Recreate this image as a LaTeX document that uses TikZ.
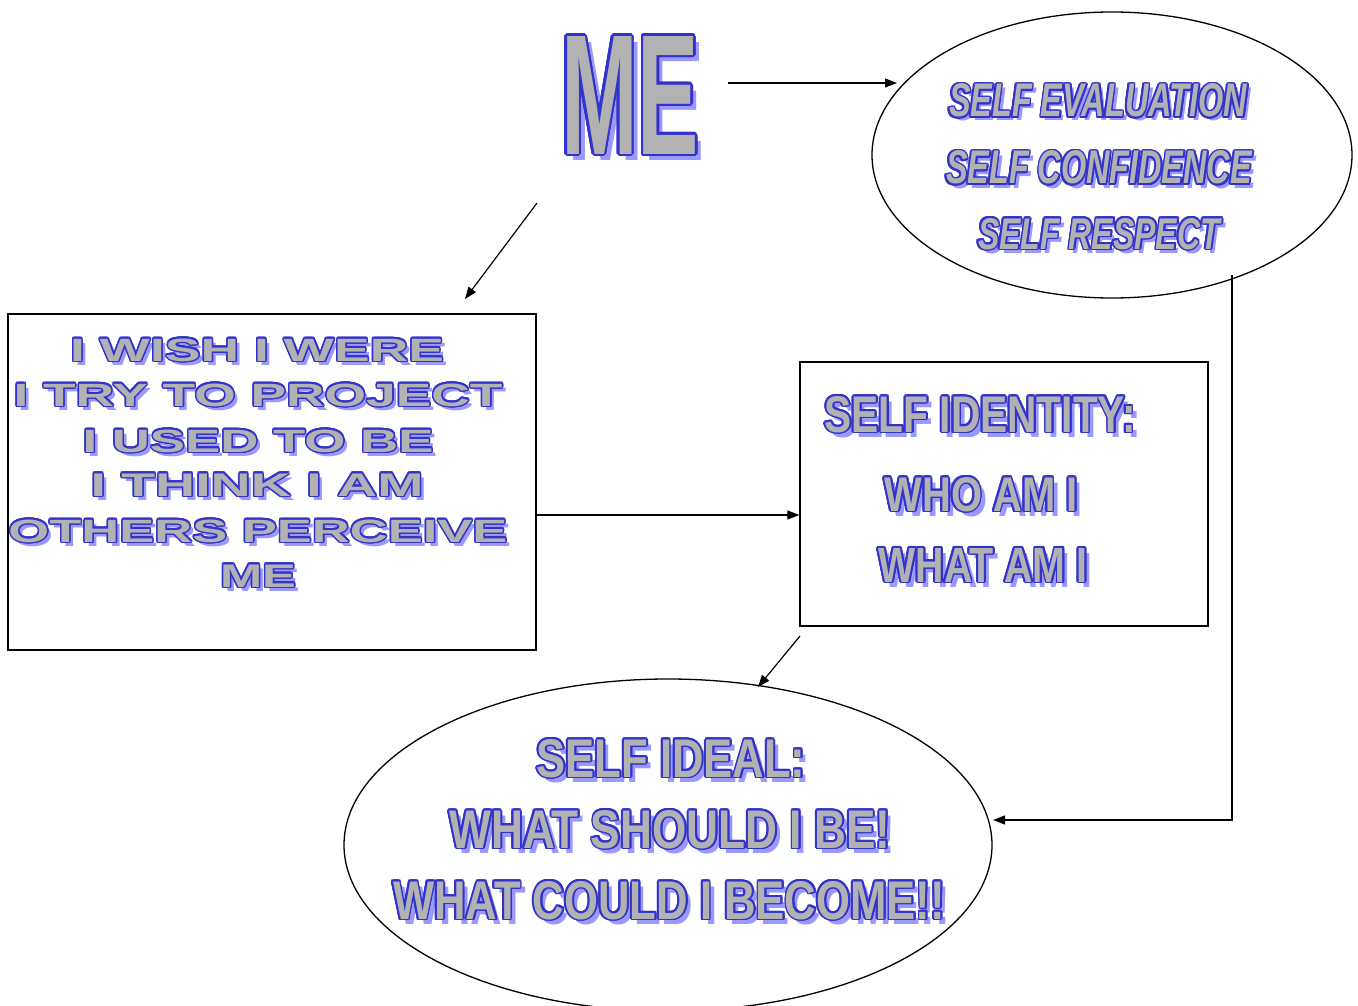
\documentclass[tikz,border=0pt]{standalone}
\usepackage{fontspec}
\setmainfont{Liberation Sans}
\usetikzlibrary{arrows.meta,shapes.geometric}
\definecolor{shadowblue}{RGB}{153,153,255}
\definecolor{outblue}{RGB}{51,51,204}
\definecolor{fillgray}{RGB}{178,178,178}
\newsavebox\waboxS
\newsavebox\waboxO
\newsavebox\waboxF
\newdimen\warad
\newcommand\WAc[2]{\rlap{\hspace*{#1\warad}\raisebox{#2\warad}{\usebox\waboxO}}}
% #1 width, #2 height, #3 font setup, #4 shadow offset, #5 outline radius, #6 text
\newcommand\WA[6]{%
 \sbox\waboxS{\resizebox{#1}{#2}{\color{shadowblue}#3#6}}%
 \sbox\waboxO{\resizebox{#1}{#2}{\color{outblue}#3#6}}%
 \sbox\waboxF{\resizebox{#1}{#2}{\color{fillgray}#3#6}}%
 \warad=#5\relax
 \makebox[#1][l]{%
 \rlap{\hspace*{#4}\raisebox{-#4}{\usebox\waboxS}}%
  \WAc{1}{0}\WAc{.924}{.383}\WAc{.707}{.707}\WAc{.383}{.924}%
  \WAc{0}{1}\WAc{-.383}{.924}\WAc{-.707}{.707}\WAc{-.924}{.383}%
  \WAc{-1}{0}\WAc{-.924}{-.383}\WAc{-.707}{-.707}\WAc{-.383}{-.924}%
  \WAc{0}{-1}\WAc{.383}{-.924}\WAc{.707}{-.707}\WAc{.924}{-.383}%
 \usebox\waboxF}}
\newcommand\fA{\fontsize{170}{170}\selectfont\bfseries}
\newcommand\fB{\fontsize{48}{48}\selectfont\bfseries\itshape}
\newcommand\fC{\fontsize{34}{34}\selectfont\bfseries}
\newcommand\fD{\fontsize{51}{51}\selectfont\bfseries}
\newcommand\fE{\fontsize{55}{55}\selectfont\bfseries}
\tikzset{
 wa/.style={anchor=base,inner sep=0pt,outer sep=0pt},
 frame/.style={draw=black,line width=1.3pt,inner sep=0pt},
 oval/.style={draw=black,line width=1.3pt,ellipse,inner sep=0pt},
 arr/.style={line width=1.2pt,-{Triangle[length=12pt,width=9pt]}},
 ln/.style={line width=1.2pt}
}
\begin{document}
\begin{tikzpicture}[x=1pt,y=-1pt]
\useasboundingbox (0,0) rectangle (1358,1006);
% shapes
\node[oval,minimum width=480pt,minimum height=286pt] (ell1) at (1112,155) {};
\node[oval,minimum width=648pt,minimum height=332pt] (ell2) at (668,845) {};
\node[frame,minimum width=528pt,minimum height=336pt] (lbox) at (272,482) {};
\node[frame,minimum width=408pt,minimum height=264pt] (mbox) at (1004,494) {};
% ME
\node[wa] (me) at (630,154) {\WA{138pt}{118pt}{\fA}{6pt}{2.5pt}{ME}};
% self evaluation
\node[wa] (t1) at (1098,117) {\WA{298pt}{33pt}{\fB}{4pt}{1.7pt}{SELF EVALUATION}};
\node[wa] (t2) at (1099,184) {\WA{306pt}{33pt}{\fB}{4pt}{1.7pt}{SELF CONFIDENCE}};
\node[wa] (t3) at (1099,249) {\WA{242pt}{31pt}{\fB}{4pt}{1.7pt}{SELF RESPECT}};
% left box
\node[wa] (l1) at (257,361) {\WA{374pt}{22.5pt}{\fC}{4pt}{1.5pt}{I WISH I WERE}};
\node[wa] (l2) at (258,406) {\WA{489pt}{22.5pt}{\fC}{4pt}{1.5pt}{I TRY TO PROJECT}};
\node[wa] (l3) at (258,452) {\WA{351pt}{22.5pt}{\fC}{4pt}{1.5pt}{I USED TO BE}};
\node[wa] (l4) at (257,496) {\WA{333pt}{22.5pt}{\fC}{4pt}{1.5pt}{I THINK I AM}};
\node[wa] (l5) at (258,542) {\WA{499pt}{22.5pt}{\fC}{4pt}{1.5pt}{OTHERS PERCEIVE}};
\node[wa] (l6) at (258,587) {\WA{76pt}{22.5pt}{\fC}{4pt}{1.5pt}{ME}};
% middle box
\node[wa] (m1) at (980,432) {\WA{311pt}{36pt}{\fD}{5pt}{1.8pt}{SELF IDENTITY:}};
\node[wa] (m2) at (981,511) {\WA{193pt}{34pt}{\fD}{5pt}{1.8pt}{WHO AM I}};
\node[wa] (m3) at (983,582) {\WA{209pt}{34pt}{\fD}{5pt}{1.8pt}{WHAT AM I}};
% bottom ellipse
\node[wa] (b1) at (671,777) {\WA{269pt}{38pt}{\fE}{5pt}{1.8pt}{SELF IDEAL:}};
\node[wa] (b2) at (670,848) {\WA{441pt}{38pt}{\fE}{5pt}{1.8pt}{WHAT SHOULD I BE!}};
\node[wa] (b3) at (669,919) {\WA{552pt}{38pt}{\fE}{5pt}{1.8pt}{WHAT COULD I BECOME!!}};
% connectors
\coordinate (a1s) at (728,83);
\coordinate (a1e) at (897,83);
\coordinate (a2s) at (537,203);
\coordinate (a2e) at (465,299);
\coordinate (a3s) at (lbox.east |- 0,515);
\coordinate (a3e) at (mbox.west |- 0,515);
\coordinate (a4s) at (800,636);
\coordinate (a4e) at (758,687);
\coordinate (a5s) at (1232,275);
\coordinate (a5m) at (1232,820);
\coordinate (a5e) at (993,820);
\draw[arr] (a1s) -- (a1e);
\draw[arr] (a2s) -- (a2e);
\draw[arr] (a3s) -- (a3e);
\draw[arr] (a4s) -- (a4e);
\draw[arr] (a5s) -- (a5m) -- (a5e);
\end{tikzpicture}
\end{document}
